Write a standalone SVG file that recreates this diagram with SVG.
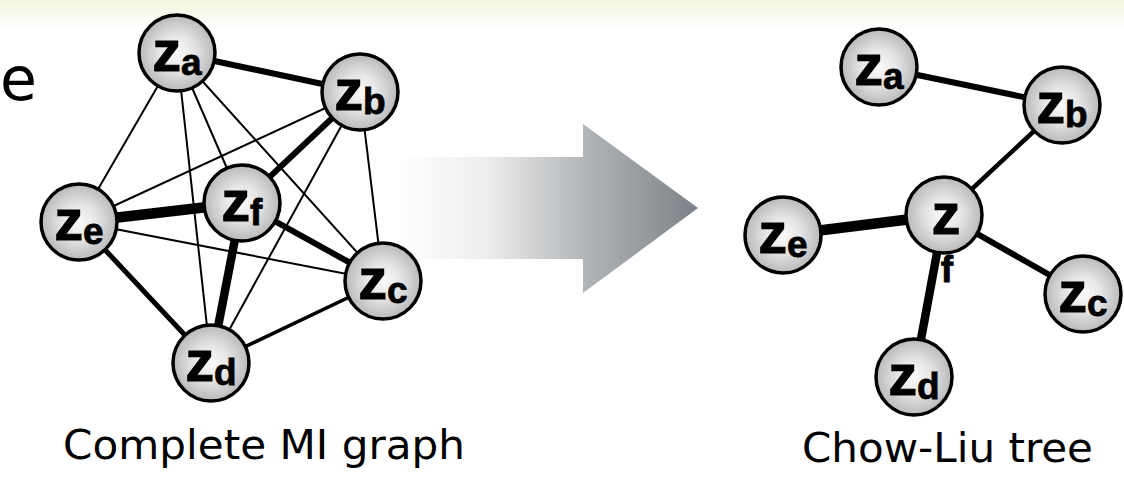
<svg xmlns="http://www.w3.org/2000/svg" width="1124" height="480" viewBox="0 0 1124 480">
  <defs>
    <linearGradient id="banner" x1="0" y1="0" x2="0" y2="1">
      <stop offset="0" stop-color="#f2f6df"/>
      <stop offset="1" stop-color="#ffffff"/>
    </linearGradient>
    <linearGradient id="arrowFill" gradientUnits="userSpaceOnUse" x1="397" y1="0" x2="698" y2="0">
      <stop offset="0" stop-color="#ffffff"/>
      <stop offset="0.3" stop-color="#eceded"/>
      <stop offset="0.62" stop-color="#b3b6b9"/>
      <stop offset="1" stop-color="#7c8187"/>
    </linearGradient>
    <radialGradient id="ball" cx="0.5" cy="0.5" r="0.5">
      <stop offset="0" stop-color="#fafafa"/>
      <stop offset="0.45" stop-color="#e6e6e6"/>
      <stop offset="1" stop-color="#b9b9b9"/>
    </radialGradient>
  </defs>
  <style>
    .node circle { fill: url(#ball); stroke: #000; stroke-width: 3.5; }
    .lbl { font-family: "Liberation Sans", Arial, sans-serif; font-weight: bold; font-size: 57px; fill: #000; stroke: #000; stroke-width: 1.2; }
    .sub { font-size: 37px; stroke-width: 0.8; }
    .edges line { stroke: #000; stroke-linecap: butt; }
    .w2 { stroke-width: 2; }
    .w3 { stroke-width: 3.5; }
    .w4 { stroke-width: 4.5; }
    .w5 { stroke-width: 5; }
    .w6 { stroke-width: 6; }
    .w8 { stroke-width: 8.5; }
    .w10 { stroke-width: 10.5; }
    .caption { font-family: "DejaVu Sans", Verdana, sans-serif; font-size: 41px; fill: #000; }
  </style>

  <!-- header band -->
  <rect x="0" y="0" width="1124" height="30" fill="url(#banner)"/>

  <!-- fragment of the slide's body text -->
  <text x="0" y="100" font-family="DejaVu Sans, Verdana, sans-serif" font-size="60" fill="#000">e</text>

  <!-- transformation arrow -->
  <polygon points="397,157 583,157 583,124 698,208 583,293 583,259 397,259" fill="url(#arrowFill)"/>

  <!-- complete MI graph: connectors -->
  <g id="mi-edges" class="edges">
    <line class="w6" x1="177" y1="53" x2="360" y2="92"/>
    <line class="w2" x1="177" y1="53" x2="79" y2="222"/>
    <line class="w2" x1="177" y1="53" x2="211" y2="363"/>
    <line class="w2" x1="177" y1="53" x2="242" y2="203"/>
    <line class="w2" x1="177" y1="53" x2="383" y2="281"/>
    <line class="w2" x1="360" y1="92" x2="79" y2="222"/>
    <line class="w6" x1="360" y1="92" x2="242" y2="203"/>
    <line class="w2" x1="360" y1="92" x2="211" y2="363"/>
    <line class="w2" x1="360" y1="92" x2="383" y2="281"/>
    <line class="w10" x1="79" y1="222" x2="242" y2="203"/>
    <line class="w2" x1="79" y1="222" x2="383" y2="281"/>
    <line class="w5" x1="79" y1="222" x2="211" y2="363"/>
    <line class="w8" x1="242" y1="203" x2="211" y2="363"/>
    <line class="w6" x1="242" y1="203" x2="383" y2="281"/>
    <line class="w3" x1="383" y1="281" x2="211" y2="363"/>
  </g>

  <!-- complete MI graph: nodes -->
  <g id="mi-za" class="node"><circle cx="177" cy="53" r="38"/><text class="lbl" x="177" y="71" text-anchor="middle">z<tspan class="sub" dy="4">a</tspan></text></g>
  <g id="mi-zb" class="node"><circle cx="360" cy="92" r="38"/><text class="lbl" x="360" y="110" text-anchor="middle">z<tspan class="sub" dy="4">b</tspan></text></g>
  <g id="mi-zc" class="node"><circle cx="383" cy="281" r="38"/><text class="lbl" x="383" y="299" text-anchor="middle">z<tspan class="sub" dy="4">c</tspan></text></g>
  <g id="mi-zd" class="node"><circle cx="211" cy="363" r="38"/><text class="lbl" x="211" y="381" text-anchor="middle">z<tspan class="sub" dy="4">d</tspan></text></g>
  <g id="mi-ze" class="node"><circle cx="79" cy="222" r="38"/><text class="lbl" x="79" y="240" text-anchor="middle">z<tspan class="sub" dy="4">e</tspan></text></g>
  <g id="mi-zf" class="node"><circle cx="242" cy="203" r="38"/><text class="lbl" x="242" y="221" text-anchor="middle">z<tspan class="sub" dy="4">f</tspan></text></g>

  <text class="caption" x="63" y="459" textLength="402" lengthAdjust="spacingAndGlyphs">Complete MI graph</text>

  <!-- Chow-Liu tree: connectors -->
  <g id="tree-edges" class="edges">
    <line class="w6" x1="879" y1="67" x2="1062" y2="105"/>
    <line class="w4" x1="1062" y1="105" x2="944" y2="215"/>
    <line class="w10" x1="783" y1="235" x2="944" y2="215"/>
    <line class="w6" x1="944" y1="215" x2="1083" y2="294"/>
    <line class="w8" x1="944" y1="215" x2="914" y2="377"/>
  </g>

  <!-- Chow-Liu tree: nodes -->
  <g id="tree-za" class="node"><circle cx="879" cy="67" r="38"/><text class="lbl" x="879" y="85" text-anchor="middle">z<tspan class="sub" dy="4">a</tspan></text></g>
  <g id="tree-zb" class="node"><circle cx="1062" cy="105" r="38"/><text class="lbl" x="1062" y="123" text-anchor="middle">z<tspan class="sub" dy="4">b</tspan></text></g>
  <g id="tree-zc" class="node"><circle cx="1083" cy="294" r="38"/><text class="lbl" x="1083" y="312" text-anchor="middle">z<tspan class="sub" dy="4">c</tspan></text></g>
  <g id="tree-zd" class="node"><circle cx="914" cy="377" r="38"/><text class="lbl" x="914" y="395" text-anchor="middle">z<tspan class="sub" dy="4">d</tspan></text></g>
  <g id="tree-ze" class="node"><circle cx="783" cy="235" r="38"/><text class="lbl" x="783" y="253" text-anchor="middle">z<tspan class="sub" dy="4">e</tspan></text></g>
  <g id="tree-zf" class="node"><circle cx="944" cy="215" r="38"/><text class="lbl" x="946" y="234" text-anchor="middle">z</text><text class="lbl sub" x="947" y="282" text-anchor="middle">f</text></g>

  <text class="caption" x="802" y="462" textLength="291" lengthAdjust="spacingAndGlyphs">Chow-Liu tree</text>
</svg>
